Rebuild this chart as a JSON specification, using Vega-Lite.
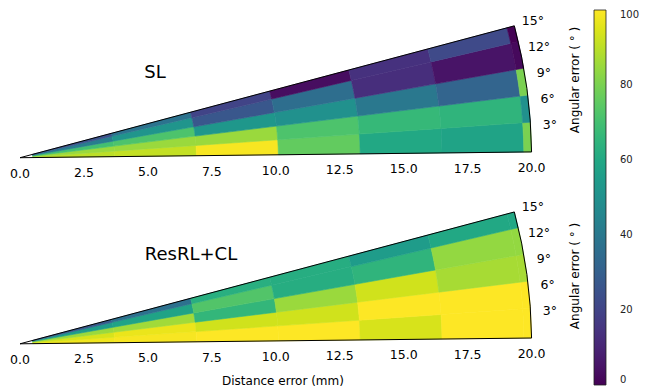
{
  "$schema": "https://vega.github.io/schema/vega-lite/v6.json",
  "width": 511.6,
  "height": 390,
  "autosize": {"type": "none"},
  "padding": {"left": 20, "top": 0, "right": 114.4, "bottom": 0},
  "config": {"font": "DejaVu Sans", "view": {"stroke": null}},
  "datasets": {
    "cells": [
      {"p":"SL","r0":0.5,"r1":3.7,"a0":0,"a1":3.5,"v":90},{"p":"SL","r0":0.5,"r1":3.7,"a0":3.5,"a1":6.7,"v":85},{"p":"SL","r0":0.5,"r1":3.7,"a0":6.7,"a1":9.9,"v":70},{"p":"SL","r0":0.5,"r1":3.7,"a0":9.9,"a1":13.1,"v":42},{"p":"SL","r0":0.5,"r1":3.7,"a0":13.1,"a1":15,"v":25},
      {"p":"SL","r0":3.7,"r1":6.9,"a0":0,"a1":3.5,"v":91},{"p":"SL","r0":3.7,"r1":6.9,"a0":3.5,"a1":6.7,"v":85},{"p":"SL","r0":3.7,"r1":6.9,"a0":6.7,"a1":9.9,"v":72},{"p":"SL","r0":3.7,"r1":6.9,"a0":9.9,"a1":13.1,"v":52},{"p":"SL","r0":3.7,"r1":6.9,"a0":13.1,"a1":15,"v":38},
      {"p":"SL","r0":6.9,"r1":10.1,"a0":0,"a1":3.5,"v":99},{"p":"SL","r0":6.9,"r1":10.1,"a0":3.5,"a1":6.7,"v":85},{"p":"SL","r0":6.9,"r1":10.1,"a0":6.7,"a1":9.9,"v":53},{"p":"SL","r0":6.9,"r1":10.1,"a0":9.9,"a1":13.1,"v":27},{"p":"SL","r0":6.9,"r1":10.1,"a0":13.1,"a1":15,"v":20},
      {"p":"SL","r0":10.1,"r1":13.3,"a0":0,"a1":3.5,"v":76},{"p":"SL","r0":10.1,"r1":13.3,"a0":3.5,"a1":6.7,"v":72},{"p":"SL","r0":10.1,"r1":13.3,"a0":6.7,"a1":9.9,"v":50},{"p":"SL","r0":10.1,"r1":13.3,"a0":9.9,"a1":13.1,"v":36},{"p":"SL","r0":10.1,"r1":13.3,"a0":13.1,"a1":15,"v":3},
      {"p":"SL","r0":13.3,"r1":16.5,"a0":0,"a1":3.5,"v":60},{"p":"SL","r0":13.3,"r1":16.5,"a0":3.5,"a1":6.7,"v":67},{"p":"SL","r0":13.3,"r1":16.5,"a0":6.7,"a1":9.9,"v":40},{"p":"SL","r0":13.3,"r1":16.5,"a0":9.9,"a1":13.1,"v":13},{"p":"SL","r0":13.3,"r1":16.5,"a0":13.1,"a1":15,"v":14},
      {"p":"SL","r0":16.5,"r1":19.7,"a0":0,"a1":3.5,"v":58},{"p":"SL","r0":16.5,"r1":19.7,"a0":3.5,"a1":6.7,"v":65},{"p":"SL","r0":16.5,"r1":19.7,"a0":6.7,"a1":9.9,"v":32},{"p":"SL","r0":16.5,"r1":19.7,"a0":9.9,"a1":13.1,"v":5},{"p":"SL","r0":16.5,"r1":19.7,"a0":13.1,"a1":15,"v":22},
      {"p":"SL","r0":19.7,"r1":20,"a0":0,"a1":3.5,"v":80},{"p":"SL","r0":19.7,"r1":20,"a0":3.5,"a1":6.7,"v":50},{"p":"SL","r0":19.7,"r1":20,"a0":6.7,"a1":9.9,"v":80},{"p":"SL","r0":19.7,"r1":20,"a0":9.9,"a1":13.1,"v":2},{"p":"SL","r0":19.7,"r1":20,"a0":13.1,"a1":15,"v":0},
      {"p":"RC","r0":0.5,"r1":3.7,"a0":0,"a1":3.5,"v":98},{"p":"RC","r0":0.5,"r1":3.7,"a0":3.5,"a1":6.7,"v":94},{"p":"RC","r0":0.5,"r1":3.7,"a0":6.7,"a1":9.9,"v":85},{"p":"RC","r0":0.5,"r1":3.7,"a0":9.9,"a1":13.1,"v":55},{"p":"RC","r0":0.5,"r1":3.7,"a0":13.1,"a1":15,"v":28},
      {"p":"RC","r0":3.7,"r1":6.9,"a0":0,"a1":3.5,"v":99},{"p":"RC","r0":3.7,"r1":6.9,"a0":3.5,"a1":6.7,"v":97},{"p":"RC","r0":3.7,"r1":6.9,"a0":6.7,"a1":9.9,"v":86},{"p":"RC","r0":3.7,"r1":6.9,"a0":9.9,"a1":13.1,"v":58},{"p":"RC","r0":3.7,"r1":6.9,"a0":13.1,"a1":15,"v":37},
      {"p":"RC","r0":6.9,"r1":10.1,"a0":0,"a1":3.5,"v":100},{"p":"RC","r0":6.9,"r1":10.1,"a0":3.5,"a1":6.7,"v":93},{"p":"RC","r0":6.9,"r1":10.1,"a0":6.7,"a1":9.9,"v":66},{"p":"RC","r0":6.9,"r1":10.1,"a0":9.9,"a1":13.1,"v":73},{"p":"RC","r0":6.9,"r1":10.1,"a0":13.1,"a1":15,"v":63},
      {"p":"RC","r0":10.1,"r1":13.3,"a0":0,"a1":3.5,"v":100},{"p":"RC","r0":10.1,"r1":13.3,"a0":3.5,"a1":6.7,"v":93},{"p":"RC","r0":10.1,"r1":13.3,"a0":6.7,"a1":9.9,"v":85},{"p":"RC","r0":10.1,"r1":13.3,"a0":9.9,"a1":13.1,"v":62},{"p":"RC","r0":10.1,"r1":13.3,"a0":13.1,"a1":15,"v":62},
      {"p":"RC","r0":13.3,"r1":16.5,"a0":0,"a1":3.5,"v":94},{"p":"RC","r0":13.3,"r1":16.5,"a0":3.5,"a1":6.7,"v":100},{"p":"RC","r0":13.3,"r1":16.5,"a0":6.7,"a1":9.9,"v":93},{"p":"RC","r0":13.3,"r1":16.5,"a0":9.9,"a1":13.1,"v":65},{"p":"RC","r0":13.3,"r1":16.5,"a0":13.1,"a1":15,"v":55},
      {"p":"RC","r0":16.5,"r1":19.7,"a0":0,"a1":3.5,"v":100},{"p":"RC","r0":16.5,"r1":19.7,"a0":3.5,"a1":6.7,"v":100},{"p":"RC","r0":16.5,"r1":19.7,"a0":6.7,"a1":9.9,"v":87},{"p":"RC","r0":16.5,"r1":19.7,"a0":9.9,"a1":13.1,"v":84},{"p":"RC","r0":16.5,"r1":19.7,"a0":13.1,"a1":15,"v":60},
      {"p":"RC","r0":19.7,"r1":20,"a0":0,"a1":3.5,"v":100},{"p":"RC","r0":19.7,"r1":20,"a0":3.5,"a1":6.7,"v":100},{"p":"RC","r0":19.7,"r1":20,"a0":6.7,"a1":9.9,"v":87},{"p":"RC","r0":19.7,"r1":20,"a0":9.9,"a1":13.1,"v":84},{"p":"RC","r0":19.7,"r1":20,"a0":13.1,"a1":15,"v":60}
    ],
    "outline": [{"a0": 0, "a1": 15, "r0": 0, "r1": 20}],
    "angles": [{"a":3,"t":"3°"},{"a":6,"t":"6°"},{"a":9,"t":"9°"},{"a":12,"t":"12°"},{"a":15,"t":"15°"}],
    "dists": [{"d":0,"t":"0.0"},{"d":2.5,"t":"2.5"},{"d":5,"t":"5.0"},{"d":7.5,"t":"7.5"},{"d":10,"t":"10.0"},{"d":12.5,"t":"12.5"},{"d":15,"t":"15.0"},{"d":17.5,"t":"17.5"},{"d":20,"t":"20.0"}]
  },
  "layer": [
    {
      "data": {"name": "cells"},
      "transform": [{"filter": "datum.p == 'SL'"}],
      "mark": {"type": "arc", "stroke": {"expr": "scale('color', datum.v)"}, "strokeWidth": 0.6},
      "encoding": {
        "x": {"datum": 0, "type": "quantitative", "scale": {"domain": [0, 20], "nice": false, "zero": false}, "axis": null},
        "y": {"datum": 9.081, "type": "quantitative", "scale": {"domain": [0, 15.246], "nice": false, "zero": false}, "axis": null},
        "theta": {"field": "a0", "type": "quantitative", "stack": null, "scale": {"domain": [0, 15], "range": [1.5595, 1.3102]}},
        "theta2": {"field": "a1"},
        "radius": {"field": "r1", "type": "quantitative", "scale": {"type": "linear", "domain": [0, 20], "range": [0, 511.6], "zero": true}},
        "radius2": {"field": "r0"},
        "color": {"field": "v", "type": "quantitative", "scale": {"type": "linear", "scheme": "viridis", "domain": [0, 100]},
          "legend": {"type": "gradient", "orient": "none", "legendX": 574, "legendY": 10, "direction": "vertical", "gradientLength": 375, "gradientThickness": 12, "title": null, "values": [0, 20, 40, 60, 80, 100], "labelFontSize": 10, "labelOffset": 14, "labelBaseline": "middle", "labelColor": "#222", "gradientStrokeColor": "#222", "gradientStrokeWidth": 0.8}}
      }
    },
    {
      "data": {"name": "cells"},
      "transform": [{"filter": "datum.p == 'RC'"}],
      "mark": {"type": "arc", "stroke": {"expr": "scale('color', datum.v)"}, "strokeWidth": 0.6},
      "encoding": {
        "x": {"datum": 0, "type": "quantitative", "axis": null},
        "y": {"datum": 1.806, "type": "quantitative", "axis": null},
        "theta": {"field": "a0", "type": "quantitative", "stack": null},
        "theta2": {"field": "a1"},
        "radius": {"field": "r1", "type": "quantitative"},
        "radius2": {"field": "r0"},
        "color": {"field": "v", "type": "quantitative"}
      }
    },
    {
      "data": {"name": "outline"},
      "mark": {"type": "arc", "filled": false, "stroke": "black", "strokeWidth": 1},
      "encoding": {
        "x": {"datum": 0, "type": "quantitative", "axis": null},
        "y": {"datum": 9.081, "type": "quantitative", "axis": null},
        "theta": {"field": "a0", "type": "quantitative", "stack": null},
        "theta2": {"field": "a1"},
        "radius": {"field": "r1", "type": "quantitative"},
        "radius2": {"field": "r0"}
      }
    },
    {
      "data": {"name": "outline"},
      "mark": {"type": "arc", "filled": false, "stroke": "black", "strokeWidth": 1},
      "encoding": {
        "x": {"datum": 0, "type": "quantitative", "axis": null},
        "y": {"datum": 1.806, "type": "quantitative", "axis": null},
        "theta": {"field": "a0", "type": "quantitative", "stack": null},
        "theta2": {"field": "a1"},
        "radius": {"field": "r1", "type": "quantitative"},
        "radius2": {"field": "r0"}
      }
    },
    {
      "data": {"name": "angles"},
      "mark": {"type": "text", "fontSize": 12.5, "align": "center", "baseline": "middle", "color": "black"},
      "encoding": {
        "x": {"datum": 0, "type": "quantitative", "axis": null},
        "y": {"datum": 9.081, "type": "quantitative", "axis": null},
        "theta": {"field": "a", "type": "quantitative"},
        "radius": {"datum": 20.75, "type": "quantitative"},
        "text": {"field": "t"}
      }
    },
    {
      "data": {"name": "angles"},
      "mark": {"type": "text", "fontSize": 12.5, "align": "center", "baseline": "middle", "color": "black"},
      "encoding": {
        "x": {"datum": 0, "type": "quantitative", "axis": null},
        "y": {"datum": 1.806, "type": "quantitative", "axis": null},
        "theta": {"field": "a", "type": "quantitative"},
        "radius": {"datum": 20.75, "type": "quantitative"},
        "text": {"field": "t"}
      }
    },
    {
      "data": {"name": "dists"},
      "mark": {"type": "text", "fontSize": 12.5, "align": "center", "baseline": "middle", "dy": 16, "color": "black"},
      "encoding": {
        "x": {"datum": 0, "type": "quantitative", "axis": null},
        "y": {"datum": 9.081, "type": "quantitative", "axis": null},
        "theta": {"datum": 0, "type": "quantitative"},
        "radius": {"field": "d", "type": "quantitative"},
        "text": {"field": "t"}
      }
    },
    {
      "data": {"name": "dists"},
      "mark": {"type": "text", "fontSize": 12.5, "align": "center", "baseline": "middle", "dy": 16, "color": "black"},
      "encoding": {
        "x": {"datum": 0, "type": "quantitative", "axis": null},
        "y": {"datum": 1.806, "type": "quantitative", "axis": null},
        "theta": {"datum": 0, "type": "quantitative"},
        "radius": {"field": "d", "type": "quantitative"},
        "text": {"field": "t"}
      }
    },
    {
      "data": {"values": [{"label": "SL"}]},
      "mark": {"type": "text", "fontSize": 18, "align": "center", "baseline": "middle", "color": "black"},
      "encoding": {
        "x": {"datum": 5.28, "type": "quantitative", "axis": null},
        "y": {"datum": 12.39, "type": "quantitative", "axis": null},
        "text": {"field": "label"}
      }
    },
    {
      "data": {"values": [{"label": "ResRL+CL"}]},
      "mark": {"type": "text", "fontSize": 18, "align": "center", "baseline": "middle", "color": "black"},
      "encoding": {
        "x": {"datum": 6.685, "type": "quantitative", "axis": null},
        "y": {"datum": 5.278, "type": "quantitative", "axis": null},
        "text": {"field": "label"}
      }
    },
    {
      "data": {"values": [{"label": "Angular error ( ° )"}]},
      "mark": {"type": "text", "fontSize": 12, "align": "center", "baseline": "middle", "angle": 270, "color": "black"},
      "encoding": {
        "x": {"datum": 21.7, "type": "quantitative", "axis": null},
        "y": {"datum": 12.12, "type": "quantitative", "axis": null},
        "text": {"field": "label"}
      }
    },
    {
      "data": {"values": [{"label": "Angular error ( ° )"}]},
      "mark": {"type": "text", "fontSize": 12, "align": "center", "baseline": "middle", "angle": 270, "color": "black"},
      "encoding": {
        "x": {"datum": 21.7, "type": "quantitative", "axis": null},
        "y": {"datum": 4.457, "type": "quantitative", "axis": null},
        "text": {"field": "label"}
      }
    },
    {
      "data": {"values": [{"label": "Distance error (mm)"}]},
      "mark": {"type": "text", "fontSize": 12, "align": "center", "baseline": "middle", "color": "black"},
      "encoding": {
        "x": {"datum": 10.28, "type": "quantitative", "axis": null},
        "y": {"datum": 0.352, "type": "quantitative", "axis": null},
        "text": {"field": "label"}
      }
    }
  ]
}
